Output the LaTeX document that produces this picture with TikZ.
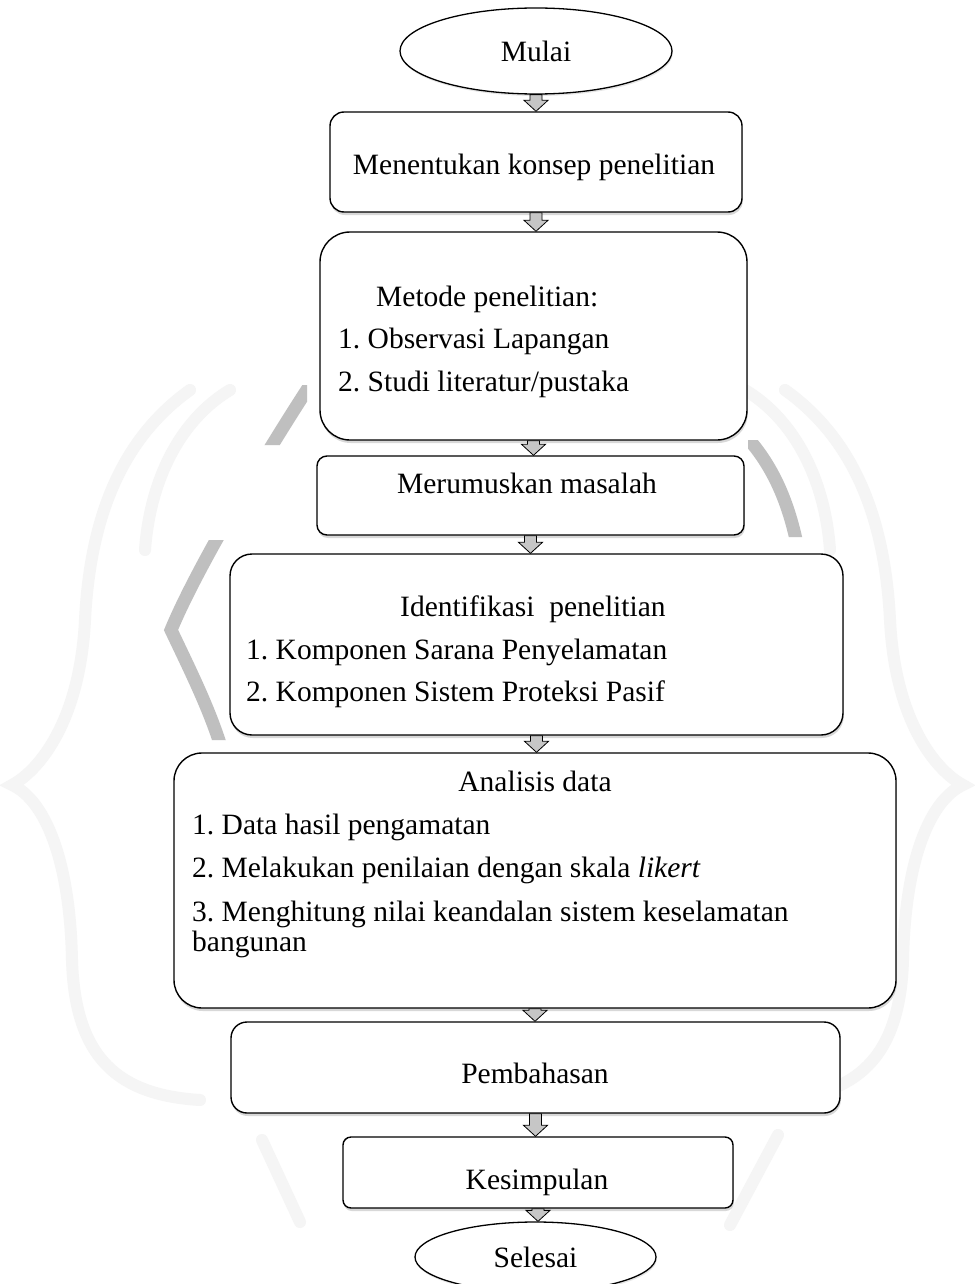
\documentclass[tikz,border=0pt]{standalone}
\usepackage{fontspec}
\setmainfont{Liberation Serif}
\frenchspacing
\usetikzlibrary{shadows,calc,shapes.geometric}
\newcommand{\flowarrow}[2]{%
  \filldraw[blockarrow] let \p1=(#1.south), \p2=(#2.north) in
    (\x1-6pt,\y1) -- (\x1+6pt,\y1) -- (\x1+6pt,\y2+11pt) -- (\x1+12pt,\y2+11pt)
    -- (\x1,\y2) -- (\x1-12pt,\y2+11pt) -- (\x1-6pt,\y2+11pt) -- cycle;}
\begin{document}
\begin{tikzpicture}[x=1pt,y=-1pt,
  box/.style={draw=black, line width=1.4pt, fill=white, inner sep=0pt,
    drop shadow={shadow xshift=0.8pt, shadow yshift=-3pt, opacity=0.3}},
  oval/.style={ellipse, draw=black, line width=1.3pt, fill=white, inner sep=0pt,
    font=\fontsize{29.5}{34}\selectfont,
    drop shadow={shadow xshift=0.8pt, shadow yshift=-2pt, opacity=0.2}},
  txt/.style={font=\fontsize{29.5}{34}\selectfont, inner sep=0pt},
  blockarrow/.style={draw=black, fill=gray!45, line width=0.8pt, line join=miter},
  wmlight/.style={draw=gray!8, line width=12pt, line cap=round},
  wmdark/.style={draw=gray!50, line width=13pt}]
\useasboundingbox (0,0) rectangle (974,1284);
\fill[white] (0,0) rectangle (974,1284);

% faint watermark
\draw[wmlight] (190,390) .. controls (120,440) and (90,520) .. (85,620)
  .. controls (80,720) and (40,770) .. (12,785)
  .. controls (45,800) and (70,860) .. (72,960)
  .. controls (75,1060) and (120,1095) .. (200,1100);
\draw[wmlight] (785,390) .. controls (855,440) and (885,520) .. (890,620)
  .. controls (895,720) and (935,770) .. (963,785)
  .. controls (930,800) and (905,860) .. (903,960)
  .. controls (900,1060) and (855,1095) .. (775,1100);
\draw[wmlight] (230,390) .. controls (180,420) and (150,480) .. (145,550);
\draw[wmlight] (745,390) .. controls (795,420) and (825,480) .. (830,550);
\draw[wmlight] (262,1140) -- (300,1222);
\draw[wmlight] (778,1135) -- (730,1225);
\begin{scope}
  \clip (0,385) rectangle (307,445) (0,540) rectangle (228,740) (748,440) rectangle (974,537);
  \draw[wmdark] (320,370) .. controls (280,430) and (200,560) .. (171,630)
    .. controls (190,670) and (210,710) .. (222,750);
  \draw[wmdark] (740,430) .. controls (770,460) and (790,500) .. (800,560);
\end{scope}

% boxes
\node[oval, minimum width=272pt, minimum height=86pt] (mulai) at (536,51) {Mulai};
\node[box, rounded corners=14pt, minimum width=412pt, minimum height=100pt] (konsep) at (536,162) {};
\node[box, rounded corners=30pt, minimum width=427pt, minimum height=208pt] (metode) at (533.5,336) {};
\node[box, rounded corners=10pt, minimum width=427pt, minimum height=79pt] (masalah) at (530.5,495.5) {};
\node[box, rounded corners=22pt, minimum width=613pt, minimum height=181pt] (identif) at (536.5,644.5) {};
\node[box, rounded corners=28pt, minimum width=722pt, minimum height=255pt] (analisis) at (535,880.5) {};
\node[box, rounded corners=16pt, minimum width=609pt, minimum height=91pt] (bahas) at (535.5,1067.5) {};
\node[box, rounded corners=8pt, minimum width=390pt, minimum height=71pt] (simpul) at (538,1172.5) {};
\node[oval, minimum width=241pt, minimum height=70pt] (selesai) at (535.5,1257) {Selesai};

% texts
\node[txt, anchor=base] (tkonsep) at (534,175) {Menentukan konsep penelitian};
\node[txt, anchor=base west] (tmet0) at (376,306) {Metode penelitian:};
\node[txt, anchor=base west] (tmet1) at (338,348) {1. Observasi Lapangan};
\node[txt, anchor=base west] (tmet2) at (338,391) {2. Studi literatur/pustaka};
\node[txt, anchor=base] (tmasalah) at (527,493) {Merumuskan masalah};
\node[txt, anchor=base west] (tid0) at (400,616) {Identifikasi\ \ penelitian};
\node[txt, anchor=base west] (tid1) at (246,659) {1. Komponen Sarana Penyelamatan};
\node[txt, anchor=base west] (tid2) at (246,701) {2. Komponen Sistem Proteksi Pasif};
\node[txt, anchor=base] (tan0) at (535,791) {Analisis data};
\node[txt, anchor=base west] (tan1) at (192,834) {1. Data hasil pengamatan};
\node[txt, anchor=base west] (tan2) at (192,877) {2. Melakukan penilaian dengan skala \textit{likert}};
\node[txt, anchor=base west] (tan3) at (192,921) {3. Menghitung nilai keandalan sistem keselamatan};
\node[txt, anchor=base west] (tan4) at (192,951) {bangunan};
\node[txt, anchor=base] (tbahas) at (535,1083) {Pembahasan};
\node[txt, anchor=base] (tsimpul) at (537,1189) {Kesimpulan};

% arrows
\flowarrow{mulai}{konsep}
\flowarrow{konsep}{metode}
\flowarrow{metode}{masalah}
\flowarrow{masalah}{identif}
\flowarrow{identif}{analisis}
\flowarrow{analisis}{bahas}
\flowarrow{bahas}{simpul}
\flowarrow{simpul}{selesai}
\end{tikzpicture}
\end{document}
